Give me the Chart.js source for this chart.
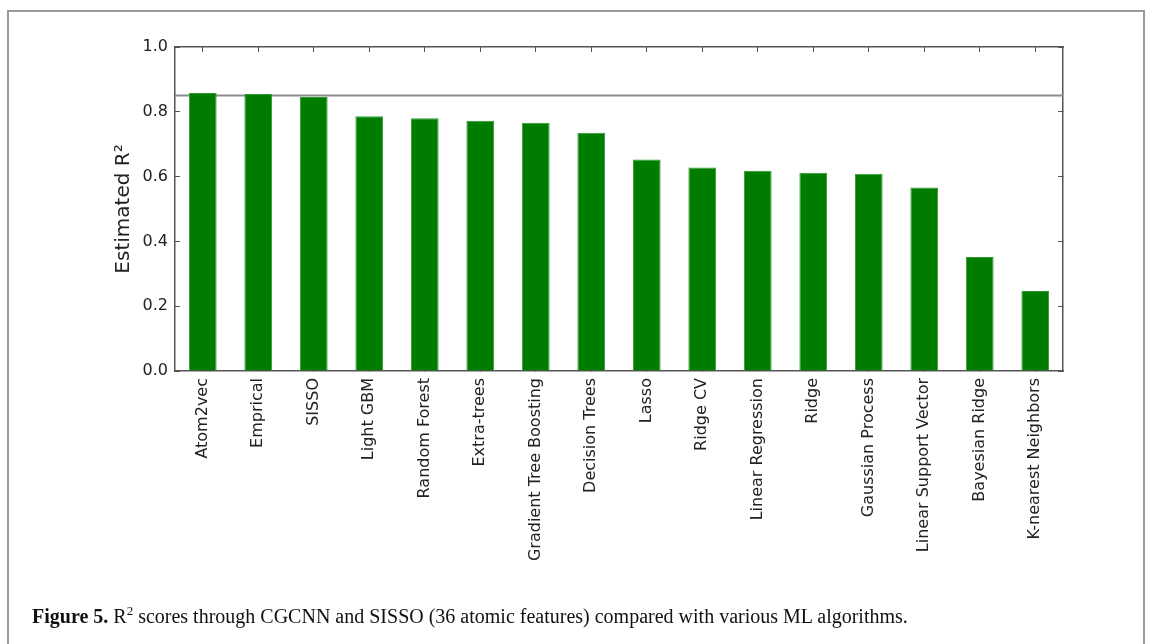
<!DOCTYPE html>
<html>
<head>
<meta charset="utf-8">
<script src="https://cdn.jsdelivr.net/npm/chart.js@4.4.0/dist/chart.umd.min.js"></script>
<style>
  html, body { margin: 0; padding: 0; background: #fff; }
  #wrap { position: relative; width: 1153px; height: 644px; overflow: hidden; }
  #frame {
    position: absolute; left: 7px; top: 10px; width: 1138px; height: 700px;
    border: 2px solid #9a9a9a; box-sizing: border-box;
  }
  #caption {
    position: absolute; left: 32px; top: 605px; white-space: nowrap;
    font-family: "Liberation Serif", "DejaVu Serif", serif; font-size: 20px; color: #111;
  }
  canvas { position: absolute; left: 0; top: 0; }
</style>
</head>
<body>
<div id="wrap">
  <div id="frame"></div>
  <canvas id="bar-chart" width="1153" height="644"></canvas>
  <div id="caption"><b>Figure 5.</b> R<sup style="font-size:13px;line-height:0">2</sup> scores through CGCNN and SISSO (36 atomic features) compared with various ML algorithms.</div>
</div>
<script>
// data
const algorithms = [
  'Atom2vec', 'Emprical', 'SISSO', 'Light GBM', 'Random Forest', 'Extra-trees',
  'Gradient Tree Boosting', 'Decision Trees', 'Lasso', 'Ridge CV', 'Linear Regression',
  'Ridge', 'Gaussian Process', 'Linear Support Vector', 'Bayesian Ridge', 'K-nearest Neighbors'
];
const r2Scores = [
  0.858, 0.855, 0.846, 0.786, 0.780, 0.772,
  0.766, 0.735, 0.653, 0.628, 0.618,
  0.612, 0.609, 0.566, 0.352, 0.247
];
const yTicks = [0.0, 0.2, 0.4, 0.6, 0.8, 1.0];
const referenceR2 = 0.85;

const axisColor = '#555';
const textColor = '#222';

// gray horizontal reference line across the plot
const refLinePlugin = {
  id: 'refLine',
  beforeDatasetsDraw(chart) {
    const { ctx, chartArea, scales } = chart;
    const y = scales.y.getPixelForValue(referenceR2);
    ctx.save();
    ctx.strokeStyle = '#8c8c8c';
    ctx.lineWidth = 2;
    ctx.beginPath();
    ctx.moveTo(chartArea.left, y);
    ctx.lineTo(chartArea.right, y);
    ctx.stroke();
    ctx.restore();
  },
};

const ctx = document.getElementById('bar-chart').getContext('2d');

new Chart(ctx, {
  type: 'bar',
  data: {
    labels: algorithms,
    datasets: [
      {
        label: 'Estimated R2',
        data: r2Scores,
        backgroundColor: '#007d00',
        borderColor: '#2f9a2f',
        borderWidth: 1,
        categoryPercentage: 1.0,
        barPercentage: 0.5,
      },
    ],
  },
  options: {
    responsive: false,
    animation: false,
    layout: { padding: { left: 0, top: 47, right: 90, bottom: 0 } },
    plugins: {
      legend: { display: false },
      tooltip: { enabled: false },
    },
    scales: {
      x: {
        type: 'category',
        position: 'bottom',
        offset: true,
        grid: { offset: false, drawOnChartArea: false, tickLength: -5, color: axisColor },
        border: { color: axisColor, width: 1.5 },
        ticks: {
          autoSkip: false,
          minRotation: 90,
          maxRotation: 90,
          padding: 12,
          color: textColor,
          font: { family: 'DejaVu Sans', size: 16 },
        },
        afterFit: (scale) => { scale.height = 644 - 371; },
      },
      x2: {
        type: 'category',
        position: 'top',
        labels: algorithms,
        offset: true,
        grid: { offset: false, drawOnChartArea: false, tickLength: -5, color: axisColor },
        border: { color: axisColor, width: 1.5 },
        ticks: { display: false },
        afterFit: (scale) => { scale.height = 0; },
      },
      y: {
        type: 'linear',
        position: 'left',
        min: 0,
        max: 1,
        afterBuildTicks: (scale) => { scale.ticks = yTicks.map((v) => ({ value: v })); },
        grid: { drawOnChartArea: false, tickLength: -5, color: axisColor },
        border: { color: axisColor, width: 1.5 },
        ticks: {
          padding: 12,
          color: textColor,
          font: { family: 'DejaVu Sans', size: 16 },
          callback: (v) => Number(v).toFixed(1),
        },
        title: {
          display: true,
          text: 'Estimated R²',
          color: textColor,
          font: { family: 'DejaVu Sans', size: 20 },
          padding: { top: 112, bottom: 0 },
        },
        afterFit: (scale) => { scale.width = 175; },
      },
      y2: {
        type: 'linear',
        position: 'right',
        min: 0,
        max: 1,
        afterBuildTicks: (scale) => { scale.ticks = yTicks.map((v) => ({ value: v })); },
        grid: { drawOnChartArea: false, tickLength: -5, color: axisColor },
        border: { color: axisColor, width: 1.5 },
        ticks: { display: false },
        afterFit: (scale) => { scale.width = 0; },
      },
    },
  },
  plugins: [refLinePlugin],
});
</script>
</body>
</html>
